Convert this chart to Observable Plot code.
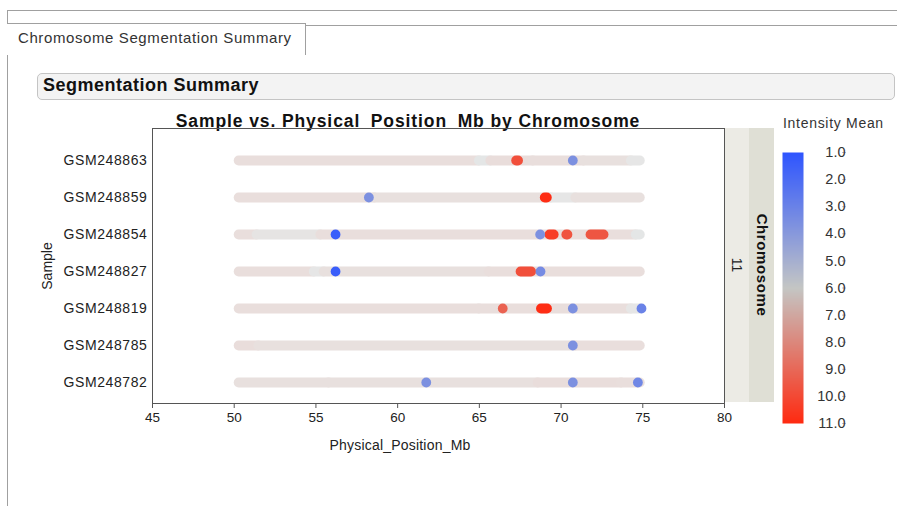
<!DOCTYPE html>
<html><head><meta charset="utf-8">
<script src="https://cdn.jsdelivr.net/npm/d3@7"></script>
<script src="https://cdn.jsdelivr.net/npm/@observablehq/plot@0.6"></script>
<style>
body{margin:0;width:897px;height:506px;position:relative;overflow:hidden;background:#fff;font-family:"Liberation Sans",Arial,sans-serif;color:#222}
.abs{position:absolute}
.vt{position:absolute;left:50%;top:50%;transform:translate(-50%,-50%) rotate(90deg);white-space:nowrap;font-size:14px}
</style></head><body>
<div class="abs" style="left:7px;top:10px;width:890px;border-top:1px solid #a0a0a0"></div>
<div class="abs" style="left:7px;top:10px;height:496px;border-left:1px solid #a0a0a0"></div>
<div class="abs" style="left:7px;top:23px;width:298px;height:31px;border-top:1px solid #a0a0a0;border-right:1px solid #a0a0a0;background:#fff"></div>
<div class="abs" style="left:306px;top:25px;width:591px;border-top:1px solid #a0a0a0"></div>
<div class="abs" style="left:18px;top:29px;font-size:15px;letter-spacing:0.6px;color:#333">Chromosome Segmentation Summary</div>
<div class="abs" style="left:37px;top:73px;width:856px;height:25px;border:1px solid #c4c4c4;border-radius:5px;background:#f3f3f3"></div>
<div class="abs" style="left:43px;top:75px;font-size:18px;letter-spacing:0.5px;font-weight:bold;color:#111">Segmentation Summary</div>
<div class="abs" style="left:108px;top:111px;width:600px;text-align:center;font-size:17.5px;font-weight:bold;color:#111;letter-spacing:0.9px">Sample vs. Physical_Position_Mb by Chromosome</div>
<div id="chart" class="abs" style="left:0;top:100px"></div>
<div class="abs" style="left:300px;top:437px;width:200px;text-align:center;font-size:14px;letter-spacing:0.2px;color:#222">Physical_Position_Mb</div>
<div class="abs" style="left:725px;top:128px;width:24px;height:274px;background:#ecebe5"><div class="vt">11</div></div>
<div class="abs" style="left:749px;top:128px;width:25px;height:274px;background:#dfdfd5"><div class="vt" style="font-weight:bold;color:#111;font-size:15px;letter-spacing:0.6px">Chromosome</div></div>
<div class="abs" style="left:783px;top:115px;font-size:14px;letter-spacing:0.7px;color:#333">Intensity Mean</div>
<div id="legend" class="abs" style="left:770px;top:140px"></div>
<script>
const samples = ["GSM248863","GSM248859","GSM248854","GSM248827","GSM248819","GSM248785","GSM248782"];
const xTicks = [45,50,55,60,65,70,75,80];
const legendTicks = [1,2,3,4,5,6,7,8,9,10,11];

// baseline (unaltered) segments
const baseSample = ["GSM248863","GSM248863","GSM248863","GSM248863","GSM248863","GSM248863",
  "GSM248859","GSM248859","GSM248859","GSM248859",
  "GSM248854","GSM248854","GSM248854","GSM248854",
  "GSM248827","GSM248827","GSM248827","GSM248827",
  "GSM248819","GSM248819","GSM248819",
  "GSM248785","GSM248785","GSM248785",
  "GSM248782","GSM248782","GSM248782","GSM248782"];
const baseStart = [50.3,65.0,65.7,68.3,71.4,74.3,
  50.3,58.6,69.4,70.9,
  50.3,51.4,55.3,74.6,
  50.3,54.9,55.5,65.6,
  50.3,65.0,74.3,
  50.3,51.5,70.9,
  50.3,55.8,68.6,73.7];
const baseEnd = [65.0,65.7,68.3,71.4,74.3,74.85,
  58.6,69.4,70.9,74.85,
  51.4,55.3,74.6,74.85,
  54.9,55.5,65.6,74.85,
  65.0,74.3,74.85,
  51.5,70.9,74.85,
  55.8,68.6,73.7,74.85];
const baseMean = [6.6,5.9,6.7,6.6,6.5,6.0,
  6.6,6.5,6.0,6.5,
  6.6,6.2,6.6,5.9,
  6.6,6.0,6.5,6.6,
  6.6,6.6,6.0,
  6.7,6.5,6.6,
  6.5,6.5,6.7,6.6];

// altered segments (gains / losses)
const callSample = ["GSM248863","GSM248863","GSM248859","GSM248859",
  "GSM248854","GSM248854","GSM248854","GSM248854","GSM248854",
  "GSM248827","GSM248827","GSM248827",
  "GSM248819","GSM248819","GSM248819","GSM248819",
  "GSM248785","GSM248782","GSM248782","GSM248782"];
const callStart = [67.28,70.72,58.24,69.03,
  56.2,68.72,69.32,70.35,71.83,
  56.2,67.55,68.74,
  66.43,68.8,70.72,74.92,
  70.72,61.75,70.72,74.7];
const callEnd = [67.4,70.72,58.24,69.16,
  56.2,68.72,69.58,70.42,72.63,
  56.2,68.2,68.74,
  66.43,69.17,70.72,74.92,
  70.72,61.75,70.72,74.7];
const callMean = [9.8,3.6,3.6,10.9,
  1.4,3.6,10.4,9.7,9.6,
  1.4,9.8,3.4,
  9.2,10.9,3.6,3.0,
  3.6,3.6,3.6,3.2];

const base = baseSample.map((s,i)=>({sample:s,start:baseStart[i],end:baseEnd[i],mean:baseMean[i]}));
const calls = callSample.map((s,i)=>({sample:s,start:callStart[i],end:callEnd[i],mean:callMean[i]}));

const color = {type:"linear", domain:[1,6,11], range:["#2e55ff","#c4c6c4","#ff2a10"], interpolate:"rgb"};
const R = 4.9;

const chart = Plot.plot({
  width: 780, height: 360,
  marginLeft: 152, marginRight: 56, marginTop: 28, marginBottom: 57,
  style: {fontFamily:"Liberation Sans, Arial, sans-serif", fontSize:"14px", color:"#222", background:"transparent"},
  x: {domain:[45,80]},
  y: {type:"point", domain: samples, range:[59,283], padding:0},
  color,
  marks: [
    Plot.ruleY(base, {y:"sample", x1:"start", x2:"end", stroke:"mean", strokeWidth:2*R, strokeLinecap:"round"}),
    Plot.ruleY(calls.filter(d=>d.end>d.start), {y:"sample", x1:"start", x2:"end", stroke:"mean", strokeWidth:2*R, strokeLinecap:"round"}),
    Plot.dot(calls.filter(d=>d.end===d.start), {y:"sample", x:"start", r:R, fill:"mean"}),
    Plot.frame({stroke:"#555"}),
    Plot.axisX({ticks:xTicks, tickSize:5, tickPadding:4, fontSize:13.5, stroke:"#555", label:null}),
    Plot.axisY({tickSize:0, tickPadding:5, fontSize:14, label:"Sample", labelAnchor:"center", labelArrow:"none", labelOffset:110})
  ]
});
// fade the baseline layer as a whole so overlapping caps do not darken
const ruleLayers = chart.querySelectorAll('g[aria-label="rule"]');
if (ruleLayers.length) ruleLayers[0].setAttribute("opacity", 0.42);
chart.querySelectorAll('g[aria-label="y-axis tick label"] text').forEach(t=>t.setAttribute("letter-spacing","0.6"));
document.getElementById("chart").append(chart);

const legend = Plot.plot({
  width: 90, height: 300,
  marginLeft: 12, marginRight: 57, marginTop: 12, marginBottom: 17,
  style: {fontFamily:"Liberation Sans, Arial, sans-serif", fontSize:"14.5px", color:"#333", background:"transparent"},
  x: {domain:[0,1], axis:null},
  y: {domain:[1,11], range:[12,283]},
  color,
  marks: [
    Plot.raster({fill:(x,y)=>y, x1:0, x2:1, y1:1, y2:11, width:1, height:271, imageRendering:"auto"}),
    Plot.axisY({anchor:"right", ticks:legendTicks, tickFormat:d3.format(".1f"), tickSize:4, tickPadding:0, stroke:"#b8bcd8", textAnchor:"end", dx:38, fontSize:14.5, label:null})
  ]
});
document.getElementById("legend").append(legend);
</script>
</body></html>
